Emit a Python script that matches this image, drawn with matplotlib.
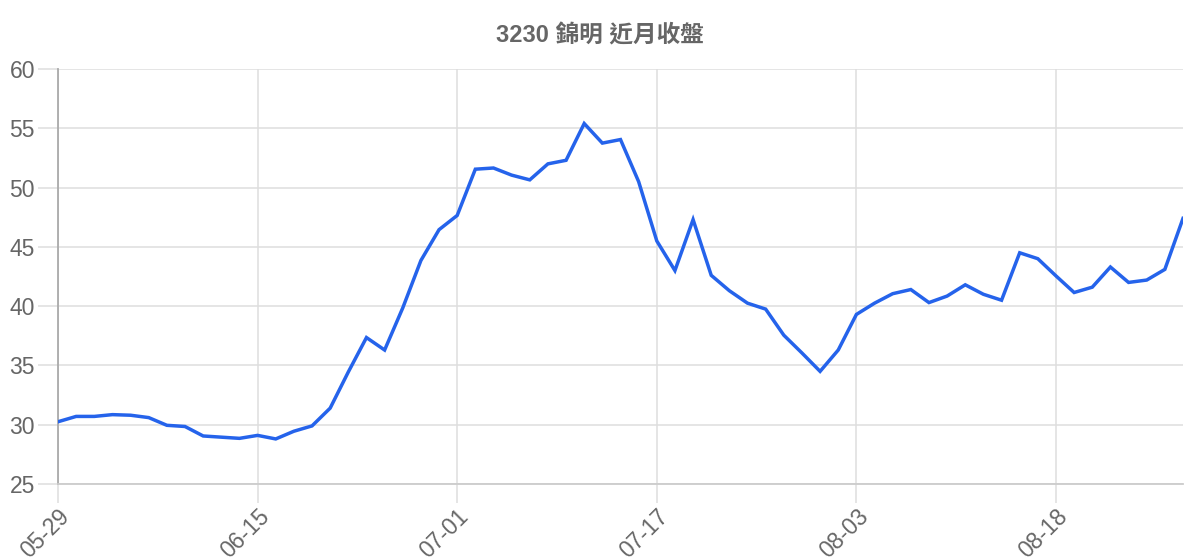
import matplotlib
matplotlib.use("Agg")
import matplotlib.pyplot as plt

title = "3230 錦明 近月收盤"
close_prices = [
    30.25, 30.7, 30.7, 30.85, 30.8, 30.6, 29.95, 29.85, 29.05, 28.95,
    28.85, 29.1, 28.8, 29.45, 29.9, 31.4, 34.45, 37.35, 36.3, 39.85,
    43.85, 46.45, 47.65, 51.55, 51.65, 51.05, 50.65, 52.0, 52.3, 55.4,
    53.75, 54.05, 50.5, 45.5, 43.0, 47.3, 42.6, 41.3, 40.25, 39.75,
    37.55, 36.05, 34.5, 36.3, 39.3, 40.25, 41.05, 41.4, 40.3, 40.85,
    41.8, 41.0, 40.5, 44.5, 44.0, 42.55, 41.15, 41.6, 43.3, 42.0,
    42.2, 43.1, 47.4,
]
tick_labels = ["05-29", "06-15", "07-01", "07-17", "08-03", "08-18"]
tick_step = 11
y_ticks = [25, 30, 35, 40, 45, 50, 55, 60]

fonts = ["Liberation Sans", "Noto Sans CJK TC", "DejaVu Sans"]
plt.rcParams["font.family"] = fonts

fig = plt.figure(figsize=(12, 5.6), dpi=100)
ax = fig.add_axes([58 / 1200, 1 - 484 / 560, (1183 - 58) / 1200, (484 - 69) / 560])

x = list(range(len(close_prices)))
ax.plot(x, close_prices, color="#2563eb", linewidth=2.5, solid_joinstyle="miter", zorder=3)

ax.set_xlim(0, len(close_prices) - 1)
ax.set_ylim(25, 60)
ax.set_yticks(y_ticks)
ax.set_yticklabels([str(v) for v in y_ticks])
tick_pos = list(range(0, len(close_prices), tick_step))[: len(tick_labels)]
ax.set_xticks(tick_pos)
ax.set_xticklabels(tick_labels, rotation=45, ha="right", va="top", rotation_mode="anchor")

grid_c = "#dedede"
ax.grid(True, color=grid_c, linewidth=1.1, zorder=0)
for s in ["top", "right"]:
    ax.spines[s].set_visible(False)
ax.spines["left"].set_color("#aaaaaa")
ax.spines["left"].set_linewidth(1.3)
ax.spines["bottom"].set_color("#cccccc")
ax.spines["bottom"].set_linewidth(1.3)

ax.tick_params(axis="y", length=14.5, width=1.1, color=grid_c, pad=2,
               labelsize=16.5, labelcolor="#666666")
ax.tick_params(axis="x", length=14, width=1.1, color=grid_c, pad=1,
               labelsize=16.5, labelcolor="#666666")

fig.text(0.5, 1 - 36 / 560, title, ha="center", va="center", fontsize=17,
         fontweight="bold", color="#666666", family=fonts)

fig.savefig("out.png", dpi=100, facecolor="white")
